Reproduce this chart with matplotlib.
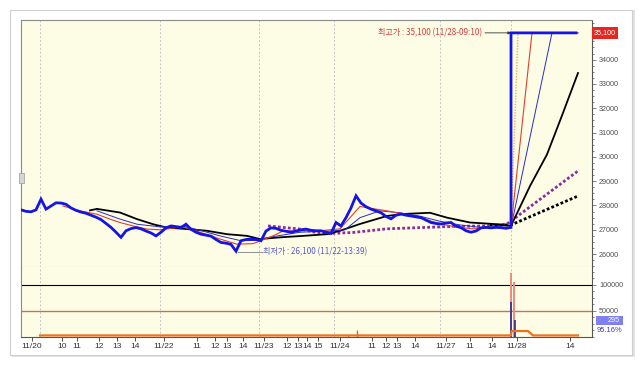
import numpy as np
import matplotlib
matplotlib.use('Agg')
import matplotlib.pyplot as plt
from matplotlib.patches import Rectangle

plt.rcParams['font.family'] = ['Liberation Sans', 'DejaVu Sans']
KR = ['Noto Sans CJK KR', 'DejaVu Sans']

# ================= data (x = bar index) =================
price_pre = [
    27820, 27760, 27740, 27820, 28260, 27850, 27980, 28110, 28100, 28050,
    27900, 27800, 27730, 27680, 27600, 27520, 27420, 27260, 27100, 26900,
    26690, 26960, 27050, 27090, 27040, 26950, 26870, 26750, 26900, 27080,
    27160, 27130, 27090, 27230, 27020, 26900, 26820, 26780, 26740, 26600,
    26480, 26450, 26400, 26120, 26550, 26600, 26620, 26600, 26550, 26950,
    27080, 27060, 26980, 26940, 26900, 26950, 27000, 27030, 26980, 26960,
    26960, 26900, 26850, 27300, 27160, 27500, 27900, 28400, 28100, 27950,
    27850, 27780, 27700, 27550, 27450, 27600, 27650, 27600, 27570, 27530,
    27500, 27400, 27300, 27260, 27240, 27280, 27300, 27150, 27090, 26960,
    26900, 26950, 27080, 27100, 27080, 27100, 27090, 27060, 27100,
]
price_post = [35100, 35100, 35100, 35100, 35100, 35100, 35100,
              35100, 35100, 35100, 35100, 35100, 35100, 35100]

ma_s_x = [8.4, 11.8, 15.2, 17.8, 19.8, 22.4, 25.2, 27.8, 32.4, 35.8, 39.8, 43.2, 46.4, 50.4, 52.4, 59.8,
          63.8, 65.8, 67.8, 69.2, 73.2, 76.4, 79.8, 83.8, 87.8, 90.4, 94.4, 98.0, 102.2, 111.4]
ma_s = [27980, 27780, 27640, 27440, 27300, 27160, 27030, 27000, 27120, 26900, 26620, 26410, 26430, 26750, 26950, 26960,
        27040, 27500, 27960, 27910, 27780, 27650, 27500, 27240, 27090, 27040, 27090, 27100, 35100, 35100]

ma_m_x = [15.2, 19.8, 23.2, 27.8, 32.4, 35.8, 39.8, 43.8, 46.8, 49.8, 55.8, 61.8, 64.8, 67.8,
          71.8, 75.8, 79.8, 83.8, 87.8, 91.8, 98.0, 106.2, 111.4]
ma_m = [27780, 27440, 27230, 27120, 27150, 26980, 26750, 26560, 26560, 26700, 26900, 26950, 27000, 27500,
        27780, 27700, 27560, 27350, 27200, 27100, 27100, 35100, 35100]

ma_l_x = [13.8, 15.2, 19.8, 23.2, 26.4, 29.2, 33.2, 37.2, 41.2, 45.2, 47.8, 51.8, 56.4, 61.2, 63.8,
          67.8, 73.2, 76.4, 81.8, 85.2, 89.8, 94.4, 98.0, 101.8, 105.2, 108.2, 111.4]
ma_l = [27800, 27860, 27710, 27440, 27230, 27090, 27030, 26960, 26820, 26750, 26620, 26690, 26750, 26820, 26960,
        27240, 27570, 27650, 27700, 27500, 27300, 27240, 27160, 28800, 30100, 31700, 33450]

ma_60_x = [49.4, 55.8, 58.8, 61.8, 66.4, 73.2, 79.8, 86.4, 93.2, 97.2, 111.4]
ma_60 = [27160, 27030, 26900, 26850, 26890, 27040, 27090, 27140, 27160, 27240, 29420]

ma_120_x = [93.8, 98.0, 111.4]
ma_120 = [27200, 27200, 28390]

ma_3_x = [98.0, 99.4]
ma_3 = [27100, 35100]

vol_pink_x = [98.0, 98.6]
vol_pink = [123000, 105000]
vol_dark_x = [98.1, 98.7]
vol_dark = [68000, 33000]
vol_small_x = [65.4, 67.2]
vol_small = [4000, 13000]

osc_x = [3.8, 98.0, 98.1, 101.4, 102.4, 111.4]
osc = [3000, 3000, 11500, 11500, 3000, 3000]

day_lines = [3.8, 27.8, 47.6, 62.6, 83.8, 98.0]
tick_pos = [2.2, 8.2, 11.2, 15.6, 19.2, 22.8, 28.6, 35.2, 38.8, 41.2, 44.4, 48.6, 53.2,
            55.4, 57.2, 59.4, 63.8, 70.2, 73.0, 75.2, 78.8, 85.0, 89.8, 94.2, 99.2, 109.8]
tick_lab = ['11/20', '10', '11', '12', '13', '14', '11/22', '11', '12', '13', '14', '11/23', '12',
            '13', '14', '15', '11/24', '11', '12', '13', '14', '11/27', '11', '14', '11/28', '14']

hi_val, hi_bar, lo_val, lo_bar = 35100, 98.0, 26100, 43.4
hi_text = '최고가 : 35,100 (11/28-09:10)'
lo_text = '최저가 : 26,100 (11/22-13:39)'
last_box, last_val, ratio_text = '35,100', 35100, '95.16%'
vol_box = '295'

# ================= figure =================
W, H = 643, 366
fig = plt.figure(figsize=(W / 100, H / 100), dpi=100)
fig.patch.set_facecolor('white')


def fx(px):
    return px / W


def fy(py):
    return 1 - py / H


# card frame with light shadow (behind everything)
fig.patches.append(Rectangle((fx(12), fy(357)), fx(623), 347 / H, transform=fig.transFigure,
                             fc='#e4e4e4', ec='none', zorder=-10))
fig.patches.append(Rectangle((fx(10), fy(355)), fx(622), 345 / H, transform=fig.transFigure,
                             fc='white', ec='#cfcfcf', lw=0.8, zorder=-9))

bg = '#fdfde6'
ax1 = fig.add_axes([fx(21), fy(267), fx(571), 247.5 / H], facecolor=bg)
ax2 = fig.add_axes([fx(21), fy(337), fx(571), 70 / H], facecolor=bg, sharex=ax1)

xmax = 114.2
for ax in (ax1, ax2):
    ax.set_xlim(0, xmax)
    for d in day_lines:
        ax.axvline(d, color='#c4c4c4', ls=(0, (2, 2)), lw=0.7, zorder=1)
    ax.yaxis.tick_right()
    ax.tick_params(axis='y', which='both', direction='out', labelsize=5.2, pad=2,
                   colors='#505050', width=0.5)
    ax.tick_params(axis='y', which='major', length=3)
    ax.tick_params(axis='y', which='minor', length=1.5)
    for s in ax.spines.values():
        s.set_color('#8a8a8a')
        s.set_linewidth(0.8)
    ax.spines['right'].set_color('#555555')

# ---- main price panel ----
bars_pre = np.arange(len(price_pre))
bars_post = np.arange(len(price_pre) - 1, len(price_pre) - 1 + len(price_post))
ax1.plot(ma_120_x, ma_120, color='black', lw=2.0, ls=(0, (1, 0.8)), zorder=2)
ax1.plot(ma_60_x, ma_60, color='#8e2a9e', lw=2.0, ls=(0, (1, 0.8)), zorder=2)
ax1.plot(ma_l_x, ma_l, color='black', lw=1.3, zorder=3)
ax1.plot(ma_m_x, ma_m, color='#2a2ac8', lw=0.7, zorder=3)
ax1.plot(ma_s_x, ma_s, color='#e0402a', lw=0.8, zorder=3)
ax1.plot(ma_3_x, ma_3, color='#f0b050', lw=1.0, ls=(0, (1, 1)), zorder=3)
ax1.plot(np.concatenate([bars_pre, bars_post]), price_pre + price_post,
         color='#1414e6', lw=2.0, zorder=4, solid_joinstyle='miter')

ax1.set_ylim(25470, 35650)
ax1.set_yticks(np.arange(26000, 35000, 1000))
ax1.set_yticks(np.arange(25500, 35650, 250), minor=True)
ax1.tick_params(axis='x', which='both', length=0, labelbottom=False)
ax1.spines['bottom'].set_color('#b0b0b0')

# high / low annotations
ax1.annotate('', xy=(hi_bar, hi_val), xytext=(hi_bar - 5.2, hi_val),
             arrowprops=dict(arrowstyle='-|>', color='#303030', lw=0.6,
                             mutation_scale=4, shrinkA=0, shrinkB=0))
ax1.text(hi_bar - 5.8, hi_val, hi_text, family=KR, fontsize=5.8, color='#d23c3c',
         ha='right', va='center', zorder=5)
ax1.plot([lo_bar, lo_bar + 4.8], [lo_val - 20, lo_val - 20], color='#909090', lw=0.7, zorder=5)
ax1.text(lo_bar + 5.0, lo_val - 20, lo_text, family=KR, fontsize=5.8, color='#5a5ac8',
         ha='left', va='center', zorder=5)

ytr = ax1.get_yaxis_transform()
ax1.text(1.003, last_val, last_box, transform=ytr, fontsize=5.2, color='white',
         ha='left', va='center', zorder=6,
         bbox=dict(boxstyle='square,pad=0.3', fc='#e8251f', ec='none'))

# ---- lower volume panel ----
ax2.axhline(100000, color='black', lw=0.8, zorder=2)
ax2.axhline(50000, color='#c8705e', lw=1.0, zorder=2)
ax2.vlines(vol_small_x, 0, vol_small, color='#e06040', lw=1.0, zorder=3)
ax2.vlines(vol_pink_x, 0, vol_pink, color='#ec8a80', lw=1.4, zorder=3)
ax2.vlines(vol_dark_x, 0, vol_dark, color='#2a2a9a', lw=1.2, zorder=4)
ax2.plot(osc_x, osc, color='#f07020', lw=1.6, zorder=4)
ax2.set_ylim(0, 134600)
ax2.set_yticks([50000, 100000])
ax2.set_yticks(np.arange(0, 134600, 12500), minor=True)
ax2.spines['top'].set_visible(False)
ax2.spines['bottom'].set_color('#555555')

ax2.set_xticks(tick_pos)
ax2.set_xticklabels(tick_lab)
ax2.tick_params(axis='x', which='major', direction='out', length=3, width=0.6,
                labelsize=6, pad=1.5, colors='#303030')

# right-hand boxes in lower panel
fig.patches.append(Rectangle((fx(596), fy(325)), fx(27), 9 / H, transform=fig.transFigure,
                             fc='#8080f0', ec='none', zorder=5))
fig.text(fx(620), fy(320.5), vol_box, fontsize=5.2, color='white', ha='right', va='center',
         zorder=6)
fig.text(fx(597), fy(331), ratio_text, fontsize=5.4, color='#3a3ac0', ha='left', va='center',
         zorder=6)

# small side tab on the left edge
fig.patches.append(Rectangle((fx(19), fy(183)), fx(5), 10 / H, transform=fig.transFigure,
                             fc='#d6d6d6', ec='#9a9a9a', lw=0.5, zorder=5))

fig.savefig('out.png', dpi=100, facecolor='white')
